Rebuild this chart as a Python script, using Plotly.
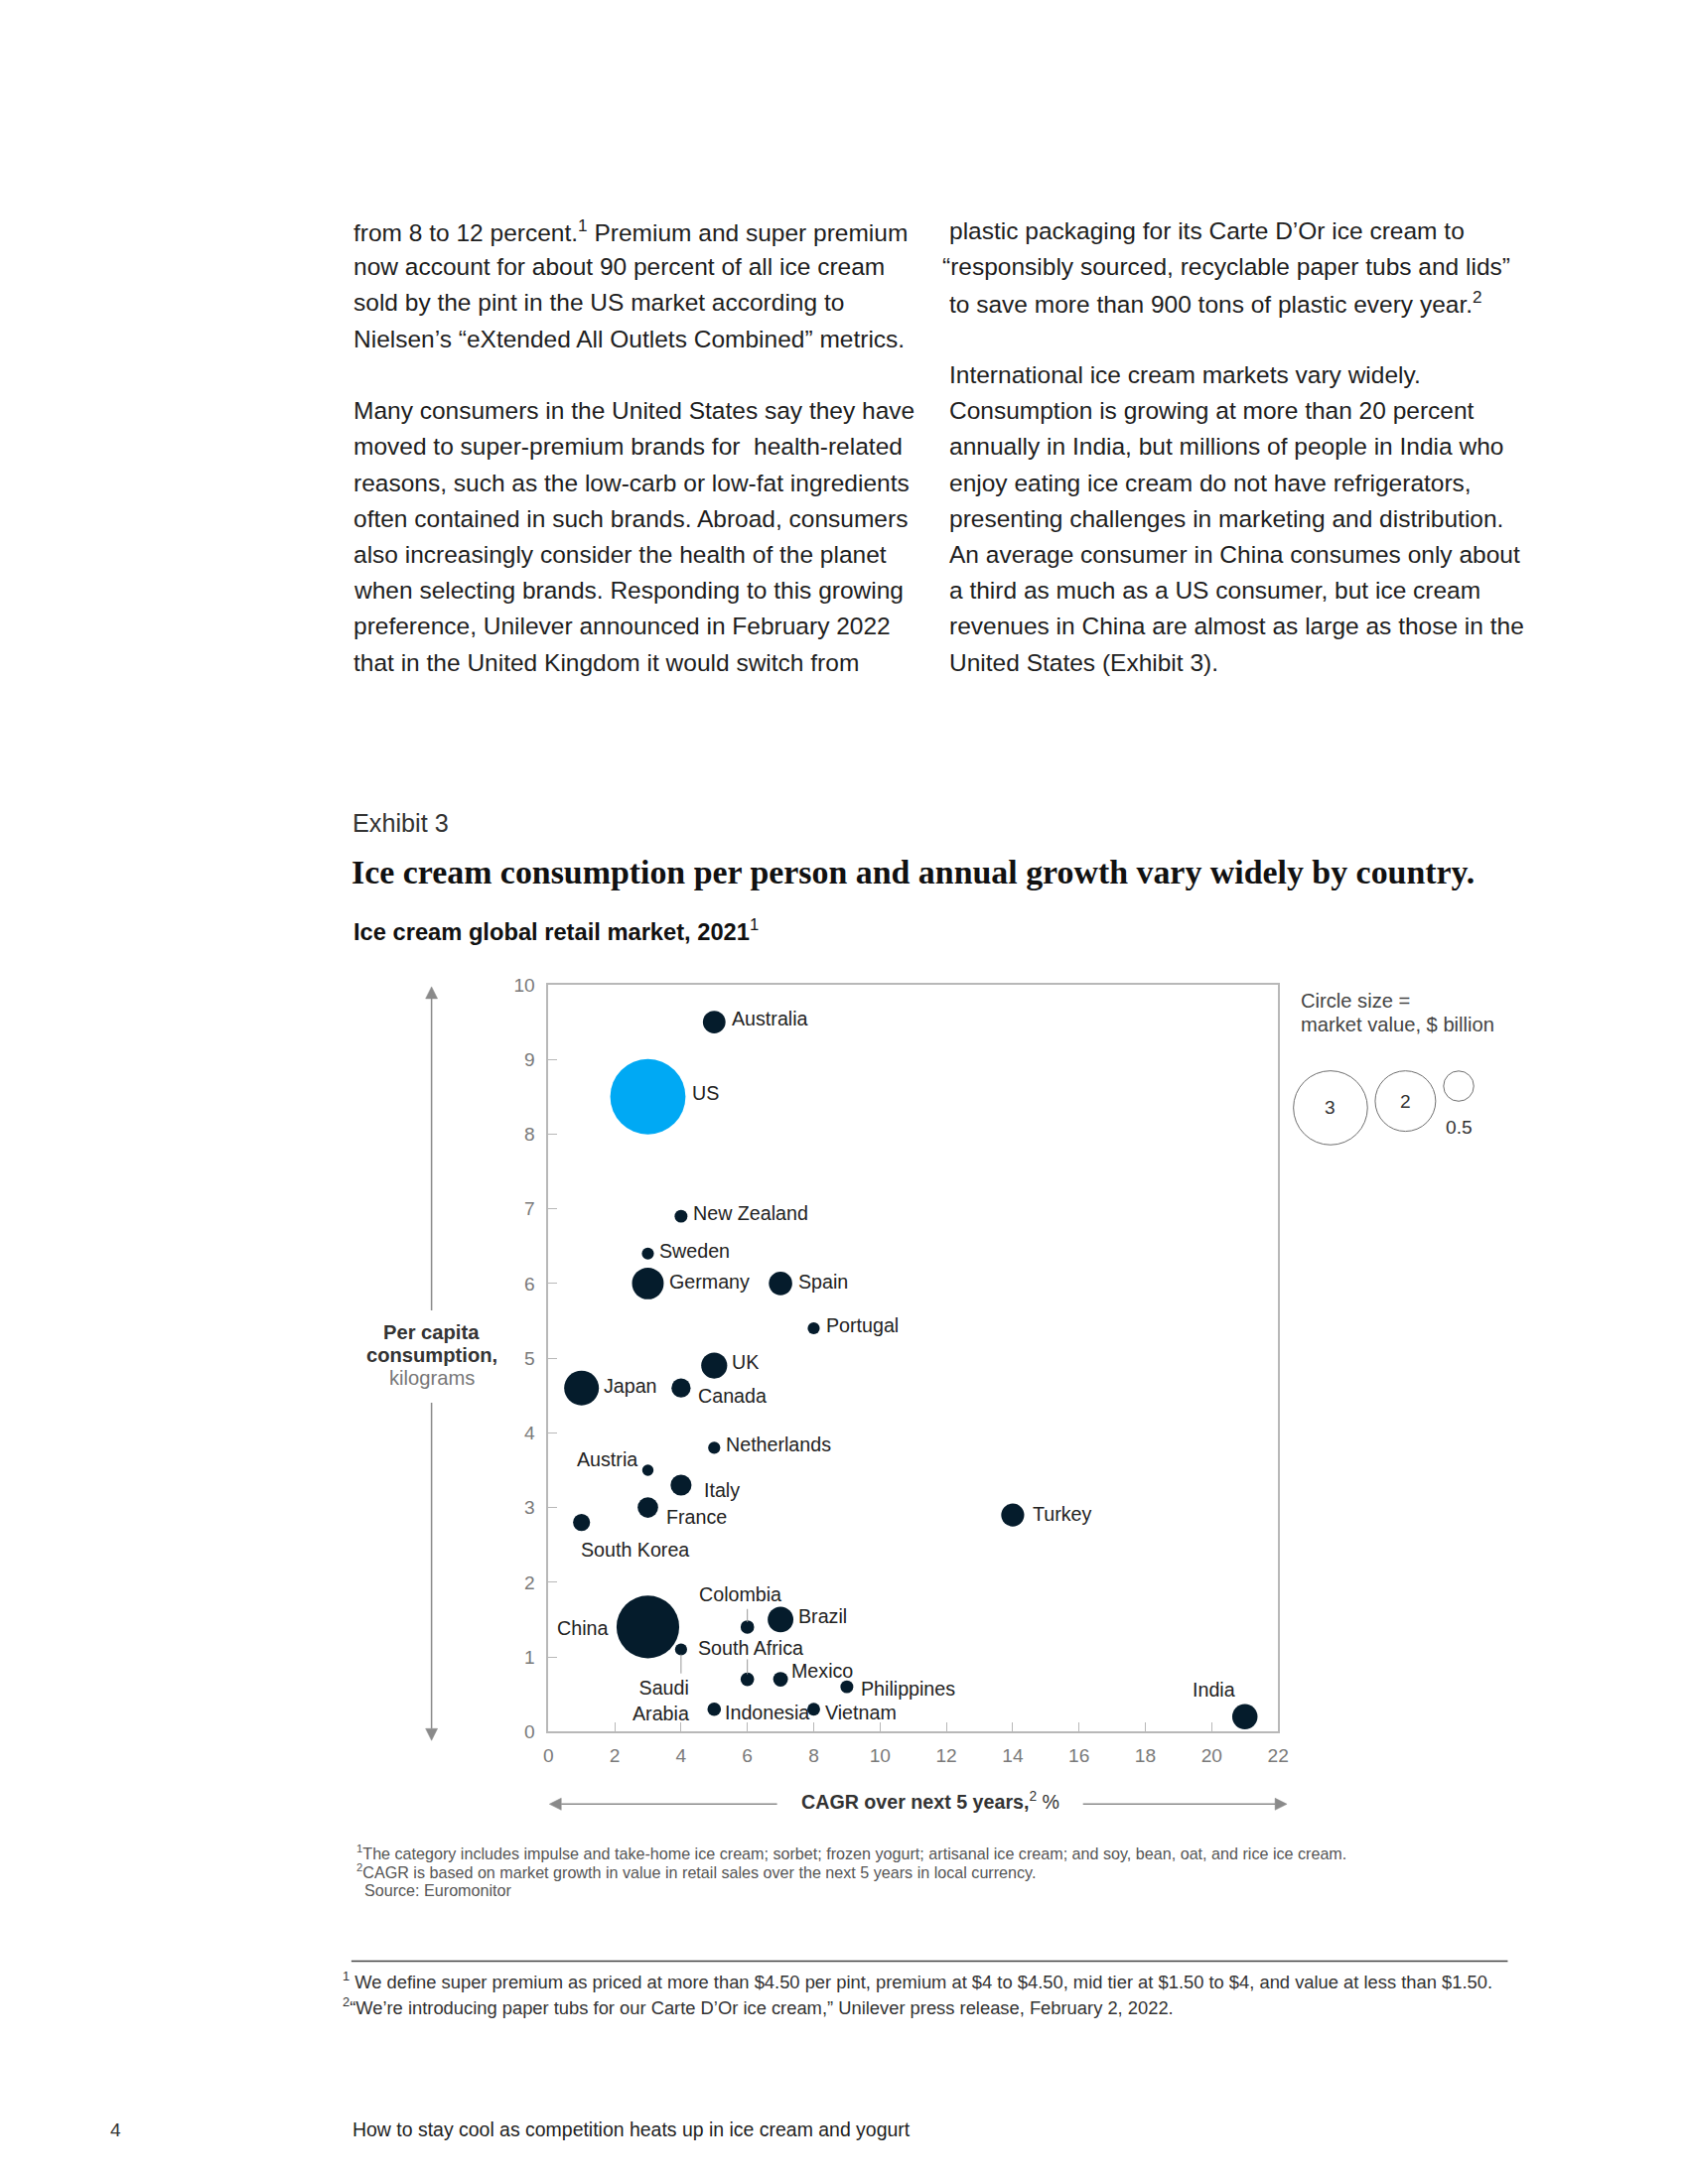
import math
import plotly.graph_objects as go

# page = 1700 x 2200; the html body keeps its default 8px margin
OFF = 8
W, H = 1700 - 2 * OFF, 2200 - 2 * OFF
# measured capture correction (photo = A + K * page position)
AX, KX = 2.2, 0.9934
AY, KY = 10.66, 0.9899
KS = 1.0 / ((KX + KY) / 2)        # pixel-size compensation

# ---------------- data ----------------
countries = ["Australia", "US", "New Zealand", "Sweden", "Germany", "Spain", "Portugal", "UK",
             "Japan", "Canada", "Netherlands", "Austria", "Italy", "France", "South Korea", "Turkey",
             "China", "Colombia", "Brazil", "Saudi Arabia", "South Africa", "Mexico", "Philippines",
             "Indonesia", "Vietnam", "India"]
cagr = [5, 3, 4, 3, 3, 7, 8, 5, 1, 4, 5, 3, 4, 3, 1, 14, 3, 6, 7, 4, 6, 7, 9, 5, 8, 21]
consumption = [9.5, 8.5, 6.9, 6.4, 6.0, 6.0, 5.4, 4.9, 4.6, 4.6, 3.8, 3.5, 3.3, 3.0, 2.8, 2.9,
               1.4, 1.4, 1.5, 1.1, 0.7, 0.7, 0.6, 0.3, 0.3, 0.2]
market_value = [0.28, 3.1, 0.09, 0.08, 0.55, 0.30, 0.08, 0.37, 0.66, 0.20, 0.08, 0.07, 0.24, 0.23,
                0.16, 0.29, 2.15, 0.10, 0.36, 0.08, 0.10, 0.12, 0.09, 0.10, 0.09, 0.35]
highlight = "US"

legend_values = [3, 2, 0.5]
legend_labels = ["3", "2", "0.5"]

x_ticks = list(range(0, 23, 2))
y_ticks = list(range(0, 11, 1))

left_lines = [
    "from 8 to 12 percent.<sup>1</sup> Premium and super premium",
    "now account for about 90 percent of all ice cream",
    "sold by the pint in the US market according to",
    "Nielsen’s “eXtended All Outlets Combined” metrics.",
    None,
    "Many consumers in the United States say they have",
    "moved to super-premium brands for  health-related",
    "reasons, such as the low-carb or low-fat ingredients",
    "often contained in such brands. Abroad, consumers",
    "also increasingly consider the health of the planet",
    "when selecting brands. Responding to this growing",
    "preference, Unilever announced in February 2022",
    "that in the United Kingdom it would switch from",
]
right_lines = [
    "plastic packaging for its Carte D’Or ice cream to",
    "“responsibly sourced, recyclable paper tubs and lids”",
    "to save more than 900 tons of plastic every year.<sup>2</sup>",
    None,
    "International ice cream markets vary widely.",
    "Consumption is growing at more than 20 percent",
    "annually in India, but millions of people in India who",
    "enjoy eating ice cream do not have refrigerators,",
    "presenting challenges in marketing and distribution.",
    "An average consumer in China consumes only about",
    "a third as much as a US consumer, but ice cream",
    "revenues in China are almost as large as those in the",
    "United States (Exhibit 3).",
]

# ---------------- styles ----------------
SANS = "Liberation Sans, Arial, sans-serif"
SERIF = "Liberation Serif, Times New Roman, serif"
NAVY = "#051c2c"
CYAN = "#00a9f4"
AXIS_GRAY = "#b8b8b8"
TICK_GRAY = "#7a7a7a"
ARROW_GRAY = "#8a8a8a"

PX_PER_SQRT = 42.7 * KS                  # bubble diameter (px) per sqrt($bn)
SIZEREF = 2.0 / (PX_PER_SQRT ** 2)       # plotly area mode: d^2 = 2*v/sizeref

# label placement: anchor, x offset px, y offset px (up +), leader (y0, y1) px or None
label_style = {
    "Australia": ("left", 16, 3, None),
    "US": ("left", 42, 4, None),
    "New Zealand": ("left", 10, 3, None),
    "Sweden": ("left", 9, 3, None),
    "Germany": ("left", 19, 2, None),
    "Spain": ("left", 16, 2, None),
    "Portugal": ("left", 10, 3, None),
    "UK": ("left", 16, 4, None),
    "Japan": ("left", 20, 2, None),
    "Canada": ("left", 15, -8, None),
    "Netherlands": ("left", 10, 3, None),
    "Austria": ("right", -8, 11, None),
    "Italy": ("left", 21, -5, None),
    "France": ("left", 16, -9, None),
    "South Korea": ("left", -3, -27, None),
    "Turkey": ("left", 18, 1, None),
    "China": ("right", -38, -1, None),
    "Colombia": ("center", -7, 33, (5, 18)),
    "Brazil": ("left", 16, 3, None),
    "Saudi Arabia": ("right", 10, -51, (-5, -24)),
    "South Africa": ("left", -51, 31, (5, 20)),
    "Mexico": ("left", 9, 9, None),
    "Philippines": ("left", 12, -2, None),
    "Indonesia": ("left", 9, -3, None),
    "Vietnam": ("left", 9, -3, None),
    "India": ("right", -8, 27, None),
}
label_text = {"Saudi Arabia": "Saudi<br>Arabia"}


def fx(sx):
    px = (sx - AX) / KX
    return (px - OFF) / W


def fy(sy):
    py = (sy - AY) / KY
    return 1 - (py - OFF) / H


def fs(v):
    return v * KS


annotations = []
shapes = []


def txt(x, y, s, size, color, xanchor="left", family=SANS, align="left"):
    annotations.append(dict(xref="paper", yref="paper", x=fx(x), y=fy(y), text=s,
                            showarrow=False, xanchor=xanchor, yanchor="middle", align=align,
                            font=dict(size=fs(size), color=color, family=family)))


# ---------------- body text ----------------
for i, s in enumerate(left_lines):
    if s:
        txt(352, 233 + i * 36.2, s, 24.3, "#1e1e1e")
for i, s in enumerate(right_lines):
    if s:
        x0 = 947 if s.startswith("“") else 954
        txt(x0, 233 + i * 36.2, s, 24.3, "#1e1e1e")

# ---------------- headings ----------------
txt(351, 829, "Exhibit 3", 25, "#333333")
txt(350, 879, "<b>Ice cream consumption per person and annual growth vary widely by country.</b>",
    33.6, "#111111", family=SERIF)
txt(352, 937, "<b>Ice cream global retail market, 2021</b><sup>1</sup>", 23.5, "#111111")

# ---------------- axis titles ----------------
txt(433, 1342, "<b>Per capita</b>", 20, "#333333", xanchor="center")
txt(433, 1365, "<b>consumption,</b>", 20, "#333333", xanchor="center")
txt(433, 1388, "kilograms", 20, "#777777", xanchor="center")
txt(937, 1814, "<b>CAGR over next 5 years,</b><sup>2</sup> %", 19.5, "#333333", xanchor="center")


def line(x0, y0, x1, y1, color, width):
    shapes.append(dict(type="line", xref="paper", yref="paper", x0=fx(x0), x1=fx(x1),
                       y0=fy(y0), y1=fy(y1), line=dict(color=color, width=width)))


def arrow(tip_x, tip_y, tail_x, tail_y, head=12, half=6):
    dx, dy = tail_x - tip_x, tail_y - tip_y
    n = math.hypot(dx, dy)
    ux, uy = dx / n, dy / n
    bx, by = tip_x + ux * head, tip_y + uy * head
    px_, py_ = -uy * half, ux * half
    line(bx, by, tail_x, tail_y, ARROW_GRAY, 1.5)
    path = "M {:.5f} {:.5f} L {:.5f} {:.5f} L {:.5f} {:.5f} Z".format(
        fx(tip_x), fy(tip_y), fx(bx + px_), fy(by + py_), fx(bx - px_), fy(by - py_))
    shapes.append(dict(type="path", xref="paper", yref="paper", path=path,
                       fillcolor=ARROW_GRAY, line=dict(color=ARROW_GRAY, width=0.5)))


arrow(433, 994, 433, 1320)
arrow(433, 1753, 433, 1413)
arrow(552, 1817, 782, 1817)
arrow(1297, 1817, 1091, 1817)

# ---------------- legend text ----------------
txt(1309, 1008, "Circle size =", 20, "#444444")
txt(1309, 1032, "market value, $ billion", 20, "#444444")

# ---------------- footnotes ----------------
txt(355, 1866, "<sup>1</sup>The category includes impulse and take-home ice cream; sorbet; frozen yogurt; "
    "artisanal ice cream; and soy, bean, oat, and rice ice cream.", 16, "#555555")
txt(355, 1885, "<sup>2</sup>CAGR is based on market growth in value in retail sales over the next 5 years "
    "in local currency.", 16, "#555555")
txt(363, 1904, "Source: Euromonitor", 16, "#555555")

line(352, 1975, 1520, 1975, "#444444", 1.5)

txt(341, 1995, "<sup>1</sup> We define super premium as priced at more than $4.50 per pint, premium at "
    "$4 to $4.50, mid tier at $1.50 to $4, and value at less than $1.50.", 18.2, "#333333")
txt(341, 2021, "<sup>2</sup>“We’re introducing paper tubs for our Carte D’Or ice cream,” Unilever press "
    "release, February 2, 2022.", 18.2, "#333333")

txt(106, 2145, "4", 19, "#333333")
txt(351, 2145, "How to stay cool as competition heats up in ice cream and yogurt", 19.3, "#1e1e1e")

# ---------------- data labels + leaders ----------------
for c, xv, yv in zip(countries, cagr, consumption):
    anchor, dx, dy, leader = label_style[c]
    annotations.append(dict(xref="x", yref="y", x=xv, y=yv, text=label_text.get(c, c),
                            showarrow=False, xanchor=anchor, yanchor="middle",
                            xshift=fs(dx), yshift=fs(dy),
                            align="right" if anchor == "right" else "left",
                            font=dict(size=fs(19.5), color="#222222", family=SANS)))
    if leader:
        shapes.append(dict(type="line", xref="x", yref="y", xsizemode="pixel", ysizemode="pixel",
                           xanchor=xv, yanchor=yv, x0=0, x1=0,
                           y0=fs(leader[0]), y1=fs(leader[1]),
                           line=dict(color="#999999", width=1)))

# ---------------- figure ----------------
colors = [CYAN if c == highlight else NAVY for c in countries]

fig = go.Figure()
fig.add_trace(go.Scatter(
    x=cagr, y=consumption, mode="markers", text=countries, cliponaxis=False,
    marker=dict(size=market_value, sizemode="area", sizeref=SIZEREF, color=colors,
                line=dict(width=0), opacity=1),
    hoverinfo="text", showlegend=False))

# size key: positions derived from the key values (axis units = photo pixels)
diam = [42.7 * math.sqrt(v) for v in legend_values]
gap = 8.5
lx, cur = [], 1304.0
for d in diam:
    lx.append(cur + d / 2)
    cur += d + gap
top = 1079.0
ly = [top + d / 2 for d in diam]
fig.add_trace(go.Scatter(
    x=lx, y=ly, mode="markers", cliponaxis=False,
    marker=dict(size=legend_values, sizemode="area", sizeref=SIZEREF, color="white",
                line=dict(color="#333333", width=1)),
    xaxis="x2", yaxis="y2", hoverinfo="skip", showlegend=False))
for lab, xv, yv, d in zip(legend_labels, lx, ly, diam):
    inside = d > 45
    annotations.append(dict(xref="x2", yref="y2", x=xv, y=yv, text=lab, showarrow=False,
                            xanchor="center", yanchor="middle",
                            yshift=0 if inside else -fs(d / 2 + 26),
                            font=dict(size=fs(19), color="#333333", family=SANS)))

fig.update_layout(
    width=W, height=H, margin=dict(l=0, r=0, t=0, b=0),
    paper_bgcolor="white", plot_bgcolor="white", showlegend=False,
    font=dict(family=SANS),
    xaxis=dict(domain=[fx(551), fx(1288)], range=[0, 22], tickvals=x_ticks,
               ticks="inside", ticklen=fs(9), tickwidth=1, tickcolor=AXIS_GRAY,
               showline=True, linecolor=AXIS_GRAY, linewidth=1.5, mirror=True,
               showgrid=False, zeroline=False, ticklabelstandoff=6,
               tickfont=dict(size=fs(19), color=TICK_GRAY, family=SANS), anchor="y"),
    yaxis=dict(domain=[fy(1744), fy(992)], range=[0, 10], tickvals=y_ticks,
               ticks="inside", ticklen=fs(9), tickwidth=1, tickcolor=AXIS_GRAY,
               showline=True, linecolor=AXIS_GRAY, linewidth=1.5, mirror=True,
               showgrid=False, zeroline=False, ticklabelstandoff=8,
               tickfont=dict(size=fs(19), color=TICK_GRAY, family=SANS), anchor="x"),
    xaxis2=dict(domain=[fx(1290), fx(1530)], range=[1290, 1530], visible=False, anchor="y2",
                fixedrange=True),
    yaxis2=dict(domain=[fy(1160), fy(1060)], range=[1160, 1060], visible=False, anchor="x2",
                fixedrange=True),
    annotations=annotations, shapes=shapes,
)

fig.write_html("out.html", config={"displayModeBar": False})
